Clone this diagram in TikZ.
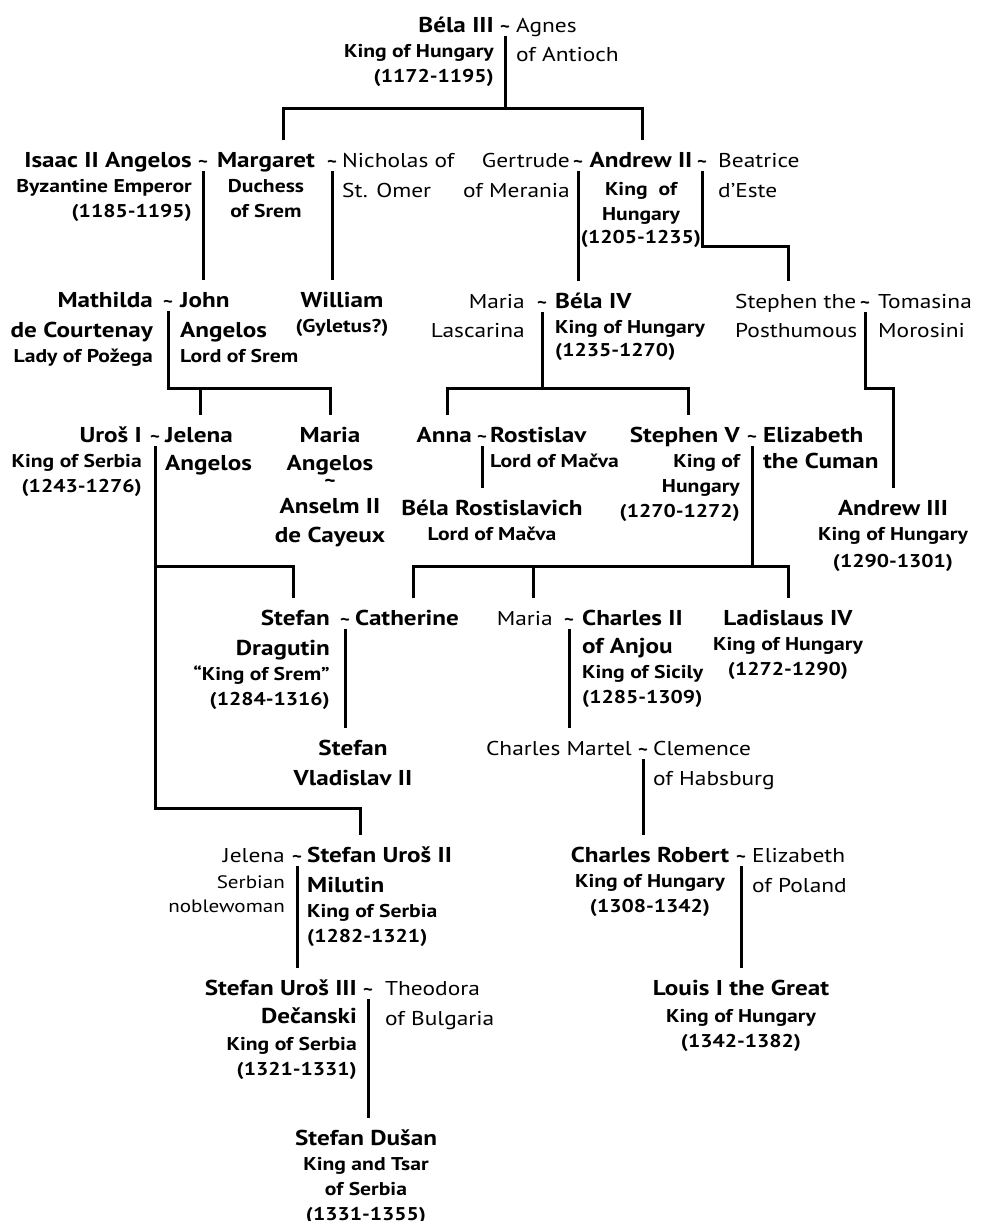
\documentclass[tikz,border=0pt]{standalone}
\usepackage{fontspec}
\setmainfont{PT Sans}[FakeStretch=1.17]
\newcommand\pname{\fontsize{21.5}{25}\bfseries\selectfont}
\newcommand\ptitle{\fontsize{18.5}{25}\bfseries\selectfont}
\newcommand\pspouse{\fontsize{20}{25}\mdseries\selectfont}
\newcommand\psmall{\fontsize{18}{25}\mdseries\selectfont}
\newcommand\blkR[1]{\begin{tabular}[t]{@{}r@{}}#1\end{tabular}}
\newcommand\blkL[1]{\begin{tabular}[t]{@{}l@{}}#1\end{tabular}}
\newcommand\blkC[1]{\begin{tabular}[t]{@{}c@{}}#1\end{tabular}}
\tikzset{
  blk/.style={inner xsep=0pt, inner ysep=9pt, font=\fontsize{16.5}{25}\selectfont},
  wed/.style={anchor=base, inner sep=0pt, font=\fontsize{16}{20}\bfseries\selectfont},
  link/.style={line width=3pt, shorten <=4pt},
  drop/.style={line width=3pt},
}
\begin{document}
\begin{tikzpicture}[x=1pt,y=-1pt]
\fill[white] (0,0) rectangle (991,1221);
\useasboundingbox (0,0) rectangle (991,1221);

%%%%%%%%%%% generation 1
\node[blk,anchor=base east] (bela3) at (494,32) {\blkR{\pname Béla III\\ \ptitle King of Hungary\\ \ptitle (1172-1195)}};
\node[wed] (w1) at (505,32) {\textasciitilde};
\node[blk,anchor=base west] (agnes) at (516,32) {\blkL{\pspouse Agnes\\[4pt] \pspouse of Antioch}};

%%%%%%%%%%% generation 2
\node[blk,anchor=base east] (isaac) at (192,167) {\blkR{\pname Isaac II Angelos\\ \ptitle Byzantine Emperor\\ \ptitle (1185-1195)}};
\node[wed] (w2) at (203,167) {\textasciitilde};
\node[blk,anchor=base] (margaret) at (266,167) {\blkC{\pname Margaret\\ \ptitle Duchess\\ \ptitle of Srem}};
\node[wed] (w3) at (332,167) {\textasciitilde};
\node[blk,anchor=base west] (nicholas) at (342,167) {\blkL{\pspouse Nicholas of\\[5pt] \pspouse St. Omer}};
% ---------------
\node[blk,anchor=base east] (gertrude) at (570,167) {\blkR{\pspouse Gertrude\\[5pt] \pspouse of Merania}};
\node[wed] (w4) at (578,167) {\textasciitilde};
\node[blk,anchor=base] (andrew2) at (641,167) {\blkC{\pname Andrew II\\[3pt] \ptitle King~~of\\ \ptitle Hungary\\[-2pt] \ptitle (1205-1235)}};
\node[wed] (w5) at (702,167) {\textasciitilde};
\node[blk,anchor=base west] (beatrice) at (718,167) {\blkL{\pspouse Beatrice\\[5pt] \pspouse d’Este}};

%%%%%%%%%%% generation 3
\node[blk,anchor=base east] (mathilda) at (153,307) {\blkR{\pname Mathilda\\[5pt] \pname de Courtenay\\ \ptitle Lady of Požega}};
\node[wed] (w6) at (168,307) {\textasciitilde};
\node[blk,anchor=base west] (john) at (180,307) {\blkL{\pname John\\[5pt] \pname Angelos\\ \ptitle Lord of Srem}};
\node[blk,anchor=base] (william) at (342,307) {\blkC{\pname William\\ \ptitle (Gyletus?)}};
% ---------------
\node[blk,anchor=base east] (maria1) at (525,308) {\blkR{\pspouse Maria\\[4pt] \pspouse Lascarina}};
\node[wed] (w7) at (542,308) {\textasciitilde};
\node[blk,anchor=base west] (bela4) at (555,308) {\blkL{\pname Béla IV\\ \ptitle King of Hungary\\[-2pt] \ptitle (1235-1270)}};
% ---------------
\node[blk,anchor=base west] (stephenP) at (735,308) {\blkL{\pspouse Stephen the\\[4pt] \pspouse Posthumous}};
\node[wed] (w8) at (865,308) {\textasciitilde};
\node[blk,anchor=base west] (tomasina) at (878,308) {\blkL{\pspouse Tomasina\\[4pt] \pspouse Morosini}};

%%%%%%%%%%% generation 4
\node[blk,anchor=base east] (uros1) at (142,442) {\blkR{\pname Uroš I\\ \ptitle King of Serbia\\ \ptitle (1243-1276)}};
\node[wed] (w9) at (155,442) {\textasciitilde};
\node[blk,anchor=base west] (jelena1) at (165,442) {\blkL{\pname Jelena\\[3pt] \pname Angelos}};
\node[blk,anchor=base] (mariaA) at (330,442) {\blkC{\pname Maria\\[3pt] \pname Angelos\\[-8pt] \ptitle\textasciitilde\\[1pt] \pname Anselm II\\[4pt] \pname de Cayeux}};
% ---------------
\node[blk,anchor=base east] (anna) at (472,442) {\blkR{\pname Anna}};
\node[wed] (w10) at (482,442) {\textasciitilde};
\node[blk,anchor=base west] (rostislav) at (490,442) {\blkL{\pname Rostislav\\ \ptitle Lord of Mačva}};
\node[blk,anchor=base] (belaR) at (492,515) {\blkC{\pname Béla Rostislavich\\ \ptitle Lord of Mačva}};
% ---------------
\node[blk,anchor=base east] (stephen5) at (740,442) {\blkR{\pname Stephen V\\ \ptitle King of\\ \ptitle Hungary\\ \ptitle (1270-1272)}};
\node[wed] (w11) at (752,442) {\textasciitilde};
\node[blk,anchor=base west] (elizabethC) at (763,442) {\blkL{\pname Elizabeth\\[1pt] \pname the Cuman}};
\node[blk,anchor=base] (andrew3) at (893,515) {\blkC{\pname Andrew III\\ \ptitle King of Hungary\\[2pt] \ptitle (1290-1301)}};

%%%%%%%%%%% generation 5
\node[blk,anchor=base east] (dragutin) at (330,625) {\blkR{\pname Stefan~\\[5pt] \pname Dragutin\\ \ptitle “King of Srem”\\ \ptitle (1284-1316)}};
\node[wed] (w12) at (345,625) {\textasciitilde};
\node[blk,anchor=base west] (catherine) at (355,625) {\blkL{\pname Catherine}};
% ---------------
\node[blk,anchor=base east] (maria2) at (553,625) {\blkR{\pspouse Maria}};
\node[wed] (w13) at (569,625) {\textasciitilde};
\node[blk,anchor=base west] (charles2) at (582,625) {\blkL{\pname Charles II\\[3pt] \pname of Anjou\\ \ptitle King of Sicily\\ \ptitle (1285-1309)}};
\node[blk,anchor=base] (ladislaus) at (788,625) {\blkC{\pname Ladislaus IV\\ \ptitle King of Hungary\\ \ptitle (1272-1290)}};

%%%%%%%%%%% generation 6
\node[blk,anchor=base] (vladislav) at (353,755) {\blkC{\pname Stefan\\[5pt] \pname Vladislav II}};
\node[blk,anchor=base east] (martel) at (632,755) {\blkR{\pspouse Charles Martel}};
\node[wed] (w14) at (643,755) {\textasciitilde};
\node[blk,anchor=base west] (clemence) at (653,755) {\blkL{\pspouse Clemence\\[5pt] \pspouse of Habsburg}};

%%%%%%%%%%% generation 7
\node[blk,anchor=base east] (jelena2) at (285,862) {\blkR{\pspouse Jelena\\[1pt] \psmall Serbian\\[-1pt] \psmall noblewoman}};
\node[wed] (w15) at (297,862) {\textasciitilde};
\node[blk,anchor=base west] (milutin) at (307,862) {\blkL{\pname Stefan Uroš II\\[5pt] \pname Milutin\\ \ptitle King of Serbia\\ \ptitle (1282-1321)}};
% ---------------
\node[blk,anchor=base] (robert) at (650,862) {\blkC{\pname Charles Robert\\ \ptitle King of Hungary\\ \ptitle (1308-1342)}};
\node[wed] (w17) at (741,862) {\textasciitilde};
\node[blk,anchor=base west] (elizabethP) at (752,862) {\blkL{\pspouse Elizabeth\\[5pt] \pspouse of Poland}};

%%%%%%%%%%% generation 8
\node[blk,anchor=base east] (uros3) at (357,995) {\blkR{\pname Stefan Uroš III\\[3pt] \pname Dečanski\\[2pt] \ptitle King of Serbia\\ \ptitle (1321-1331)}};
\node[wed] (w16) at (368,995) {\textasciitilde};
\node[blk,anchor=base west] (theodora) at (385,995) {\blkL{\pspouse Theodora\\[5pt] \pspouse of Bulgaria}};
\node[blk,anchor=base] (louis) at (741,995) {\blkC{\pname Louis I the Great\\[2pt] \ptitle King of Hungary\\ \ptitle (1342-1382)}};

%%%%%%%%%%% generation 9
\node[blk,anchor=base] (dusan) at (366,1145) {\blkC{\pname Stefan Dušan\\ \ptitle King and Tsar\\ \ptitle of Serbia\\ \ptitle (1331-1355)}};

%%%%%%%%%%% lines of descent
% ---------------    Béla III
\draw[link] (w1.south) -- (w1.south |- 0,108);
\draw[drop] (margaret.north -| 283,0) -- (283,108) -- (642,108) -- (andrew2.north -| 642,0);
% ---------------    generation 2
\draw[link] (w2.south) -- (john.north -| w2.south);
\draw[link] (w3.south) -- (william.north -| w3.south);
\draw[link] (w4.south) -- (bela4.north -| w4.south);
\draw[link] (w5.south) |- (788,246) -- (stephenP.north -| 788,0);
% ---------------    generation 3
\draw[link] (w6.south) |- (330,388) -- (mariaA.north -| 330,0);
\draw[drop] (200,388) -- (jelena1.north -| 200,0);
\draw[link] (w7.south) -- (w7.south |- 0,388);
\draw[drop] (anna.north -| 447,0) |- (688,388) -- (stephen5.north -| 688,0);
\draw[link] (w8.south) |- (893,388) -- (andrew3.north -| 893,0);
% ---------------    generation 4
\draw[link] (w9.south) |- (360,808) -- (milutin.north -| 360,0);
\draw[drop] (w9.south |- 0,566) -| (dragutin.north -| 293,0);
\draw[link] (w10.south) -- (belaR.north -| w10.south);
\draw[link] (w11.south) -- (w11.south |- 0,566);
\draw[drop] (catherine.north -| 413,0) |- (788,566) -- (ladislaus.north -| 788,0);
\draw[drop] (533,566) -- (maria2.north -| 533,0);
% ---------------    generation 5 and after
\draw[link] (w12.south) -- (vladislav.north -| w12.south);
\draw[link] (w13.south) -- (martel.north -| w13.south);
\draw[link] (w14.south) -- (robert.north -| w14.south);
\draw[link] (w15.south) -- (uros3.north -| w15.south);
\draw[link] (w16.south) -- (dusan.north -| w16.south);
\draw[link] (w17.south) -- (louis.north -| w17.south);
\end{tikzpicture}
\end{document}
